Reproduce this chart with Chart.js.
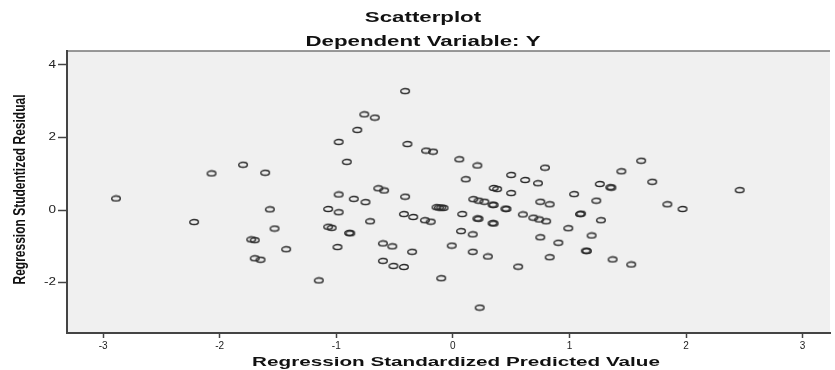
<!DOCTYPE html>
<html>
<head>
<meta charset="utf-8">
<script src="https://cdn.jsdelivr.net/npm/chart.js@4.4.1/dist/chart.umd.min.js"></script>
<style>
  html, body { margin: 0; padding: 0; background: #fff; }
  #wrap { width: 835px; height: 370px; }
</style>
</head>
<body>
<div id="wrap"><canvas id="scatterChart"></canvas></div>
<script>
// standardized predicted value (x) and studentized residual (y)
const predicted = [
  -2.89, -2.22, -2.07, -1.80, -1.61, -1.57, -1.53, -1.73, -1.70, -1.43,
  -1.70, -1.65, -1.15, -1.07, -0.98, -0.98, -0.85, -0.75, -0.64, -0.59,
  -0.41, -0.71, -1.07, -1.04, -0.89, -0.88, -0.99, -0.60, -0.52, -0.35,
  -0.60, -0.51, -0.42, -0.10, 0.23, -0.41, -0.76, -0.67, -0.82, -0.98,
  -0.39, -0.91, -0.23, -0.17, 0.055, 0.21, 0.11, 0.50, 0.62, 0.73,
  0.79, 1.26, 1.35, 1.36, 1.445, 1.615, 1.71, 0.35, 0.38, 0.50,
  1.04, 1.23, 2.46, 1.84, 1.97, 0.175, 0.22, 0.27, 0.34, 0.35,
  0.45, 0.46, 0.75, 0.83, -0.14, -0.12, -0.10, -0.08, -0.42, -0.34,
  -0.24, -0.19, 0.08, 0.21, 0.22, 0.34, 0.35, 0.60, 0.69, 0.74,
  0.80, 1.09, 1.10, 1.27, 0.07, 0.17, 0.99, 0.75, 1.19, 0.905,
  -0.01, 0.17, 0.30, 1.14, 1.15, 0.83, 1.37, 1.53, 0.56
];
const residual = [
  0.32, -0.33, 1.01, 1.25, 1.03, 0.02, -0.51, -0.81, -0.83, -1.08,
  -1.33, -1.37, -1.94, 0.03, -0.06, 0.43, 0.31, 0.22, 0.60, 0.54,
  0.37, -0.31, -0.46, -0.49, -0.63, -0.64, -1.02, -0.92, -1.00, -1.15,
  -1.40, -1.54, -1.57, -1.88, -2.69, 3.28, 2.64, 2.55, 2.21, 1.88,
  1.82, 1.33, 1.64, 1.61, 1.40, 1.23, 0.85, 0.97, 0.83, 0.74,
  1.17, 0.72, 0.63, 0.62, 1.07, 1.36, 0.78, 0.61, 0.58, 0.47,
  0.44, 0.26, 0.55, 0.16, 0.03, 0.30, 0.26, 0.23, 0.15, 0.14,
  0.04, 0.03, 0.23, 0.16, 0.08, 0.07, 0.07, 0.06, -0.11, -0.19,
  -0.28, -0.32, -0.11, -0.23, -0.24, -0.36, -0.37, -0.12, -0.21, -0.26,
  -0.31, -0.11, -0.10, -0.28, -0.58, -0.67, -0.50, -0.75, -0.70, -0.90,
  -0.98, -1.15, -1.28, -1.12, -1.13, -1.30, -1.36, -1.50, -1.56
];
const xTicks = [-3, -2, -1, 0, 1, 2, 3];
const yTicks = [-2, 0, 2, 4];

const FONT = "'Liberation Sans', Arial, sans-serif";

// SPSS style open marker, a little wider than tall
const marker = document.createElement('canvas');
marker.width = 12;
marker.height = 8;
const mctx = marker.getContext('2d');
mctx.strokeStyle = '#2b2b2b';
mctx.lineWidth = 1.4;
mctx.beginPath();
mctx.ellipse(6, 4, 4.3, 2.5, 0, 0, Math.PI * 2);
mctx.stroke();

// wrap a draw method so its text comes out horizontally stretched like the SPSS export
function restyle(obj, method, fn) {
  if (!obj || obj[method]._restyled) return;
  const orig = obj[method];
  obj[method] = function (...args) {
    const ctx = this.ctx;
    ctx.save();
    fn(ctx, this);
    orig.apply(this, args);
    ctx.restore();
  };
  obj[method]._restyled = true;
}

function stretchX(c, from, to, k) {
  c.translate(to, 0);
  c.scale(k, 1);
  c.translate(-from, 0);
}

const spssLook = {
  id: 'spssLook',
  beforeDraw(chart) {
    const {ctx, chartArea: a} = chart;
    ctx.save();
    ctx.fillStyle = '#f0f0f0';
    ctx.fillRect(a.left, a.top, a.right - a.left, a.bottom - a.top);
    ctx.strokeStyle = '#777';
    ctx.lineWidth = 1.5;
    ctx.beginPath();
    ctx.moveTo(a.left, a.top);
    ctx.lineTo(a.right, a.top);
    ctx.stroke();
    ctx.restore();

    restyle(chart.titleBlock, 'draw', (c, t) => {
      stretchX(c, (t.left + t.right) / 2, 423, 1.59);
    });
    restyle(chart.scales.x, 'drawTitle', (c, s) => {
      stretchX(c, (s.left + s.right) / 2, 456, 1.59);
    });
    restyle(chart.scales.y, 'drawTitle', (c, s) => {
      stretchX(c, 20, 20, 1.3);
      c.translate(0, -2.5);
    });
    restyle(chart.scales.y, 'drawLabels', (c, s) => {
      const xr = s.right - 11;
      stretchX(c, xr, xr, 1.35);
    });
  }
};

const points = predicted.map((x, i) => ({x: x, y: residual[i]}));

new Chart(document.getElementById('scatterChart'), {
  type: 'scatter',
  data: {
    datasets: [{
      label: 'Y',
      data: points,
      pointStyle: marker,
      pointRadius: 4,
      pointHoverRadius: 4
    }]
  },
  options: {
    responsive: true,
    maintainAspectRatio: false,
    animation: false,
    layout: { padding: 0 },
    plugins: {
      legend: { display: false },
      tooltip: { enabled: false },
      title: {
        display: true,
        text: ['Scatterplot', 'Dependent Variable: Y'],
        color: '#111',
        font: { family: FONT, size: 14, weight: 'bold', lineHeight: '24px' },
        padding: { top: 6, bottom: -3 }
      }
    },
    scales: {
      x: {
        type: 'linear',
        min: -3.31,
        max: 3.235,
        afterFit: s => { s.height = 37; s.paddingRight = 0; s.paddingLeft = 0; },
        afterBuildTicks: s => { s.ticks = xTicks.map(v => ({value: v})); },
        grid: { drawOnChartArea: false, drawTicks: true, tickLength: 5, tickColor: '#444', tickWidth: 1.5 },
        border: { display: true, color: '#444', width: 2 },
        ticks: {
          color: '#222',
          padding: 2,
          font: { family: FONT, size: 10 }
        },
        title: {
          display: true,
          text: 'Regression Standardized Predicted Value',
          color: '#111',
          padding: { top: 0, bottom: 0 },
          font: { family: FONT, size: 13, weight: 'bold', lineHeight: 1.2 }
        }
      },
      y: {
        type: 'linear',
        min: -3.39,
        max: 4.386,
        afterFit: s => { s.width = 67; },
        afterBuildTicks: s => { s.ticks = yTicks.map(v => ({value: v})); },
        grid: { drawOnChartArea: false, drawTicks: true, tickLength: 9, tickColor: '#444', tickWidth: 1.5 },
        border: { display: true, color: '#444', width: 2 },
        ticks: {
          color: '#222',
          padding: 2,
          font: { family: FONT, size: 10 }
        },
        title: {
          display: true,
          text: 'Regression Studentized Residual',
          color: '#111',
          padding: { top: 13, bottom: 0 },
          font: { family: FONT, size: 12, weight: 'bold', lineHeight: 1.2 }
        }
      }
    }
  },
  plugins: [spssLook]
});
</script>
</body>
</html>
